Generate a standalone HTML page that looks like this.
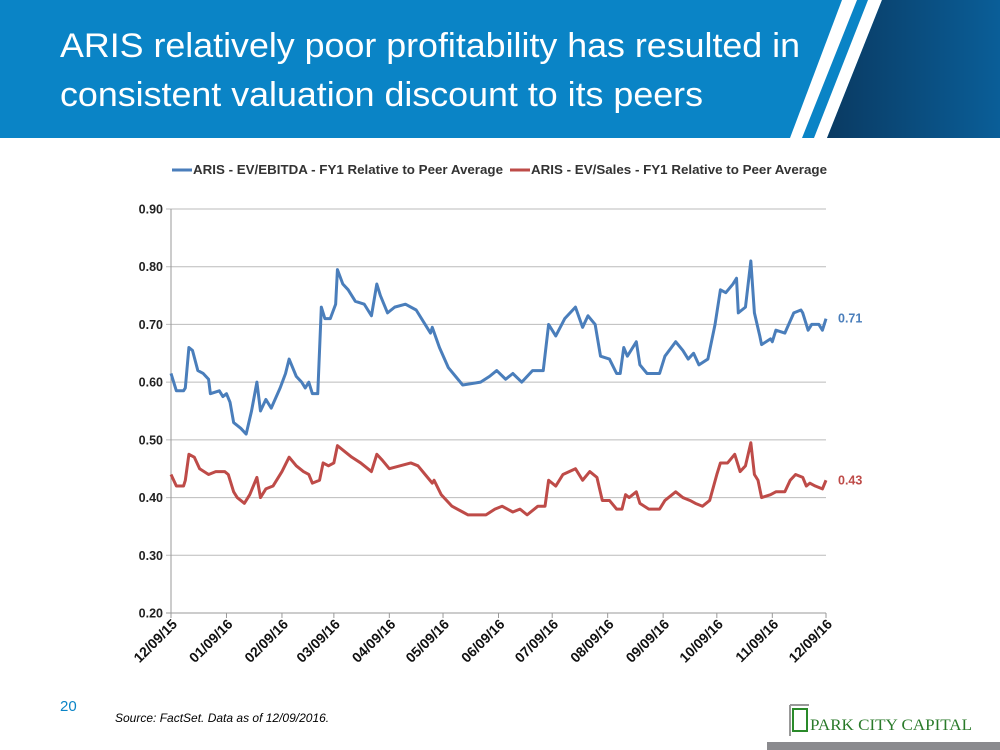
<!DOCTYPE html>
<html><head><meta charset="utf-8"><style>
body{margin:0;width:1000px;height:750px;overflow:hidden;background:#fff;font-family:"Liberation Sans",sans-serif;position:relative}
.t{position:absolute}
</style></head><body>
<svg class="t" style="left:0;top:0" width="1000" height="140">
<defs><linearGradient id="g" x1="0" x2="1"><stop offset="0" stop-color="#0a3a62"/><stop offset="1" stop-color="#0a5e98"/></linearGradient></defs>
<rect width="1000" height="138" fill="#0a84c6"/>
<polygon points="842,0 857,0 802,138 790,138" fill="#fff"/>
<polygon points="868,0 882,0 827,138 814,138" fill="#fff"/>
<polygon points="882,0 1000,0 1000,138 827,138" fill="url(#g)"/>
<text x="60" y="57" fill="#fff" font-size="34" textLength="740" lengthAdjust="spacingAndGlyphs" font-family="Liberation Sans">ARIS relatively poor profitability has resulted in</text>
<text x="60" y="106" fill="#fff" font-size="34" textLength="643" lengthAdjust="spacingAndGlyphs" font-family="Liberation Sans">consistent valuation discount to its peers</text>
</svg>
<svg id="chart" class="t" style="left:0;top:140" width="1000" height="560"></svg>
<div class="t" style="left:60px;top:698px;color:#0a84c6;font-size:15px">20</div>
<div class="t" style="left:115px;top:711px;font-size:12px;font-style:italic">Source: FactSet. Data as of 12/09/2016.</div>
<svg class="t" style="left:785px;top:700px" width="215" height="50">
<path d="M5,5 H24 M5,5 V36" stroke="#999" stroke-width="2" fill="none"/>
<rect x="8" y="9" width="14" height="22" fill="none" stroke="#2a8a2a" stroke-width="2"/>
<text x="25" y="30" fill="#2a7a2a" font-family="Liberation Serif" font-size="16" textLength="162" lengthAdjust="spacingAndGlyphs">PARK CITY CAPITAL</text>
</svg>
<div class="t" style="left:767px;top:742px;width:233px;height:8px;background:#8a8a8e"></div>
<script>
const yTicks=[0.2,0.3,0.4,0.5,0.6,0.7,0.8,0.9];
const xTickLabels=["12/09/15","01/09/16","02/09/16","03/09/16","04/09/16","05/09/16","06/09/16","07/09/16","08/09/16","09/09/16","10/09/16","11/09/16","12/09/16"];
const xTickDays=[0,31,62,91,122,152,183,213,244,275,305,336,366];
const blueSeries=[[0,0.615],[3,0.585],[7,0.585],[8,0.59],[10,0.66],[12,0.655],[15,0.62],[18,0.615],[21,0.605],[22,0.58],[27,0.585],[29,0.575],[31,0.58],[33,0.565],[35,0.53],[39,0.52],[42,0.51],[45,0.55],[48,0.60],[50,0.55],[53,0.57],[56,0.555],[61,0.59],[64,0.615],[66,0.64],[70,0.61],[73,0.60],[75,0.59],[77,0.60],[79,0.58],[82,0.58],[84,0.73],[86,0.71],[89,0.71],[92,0.735],[93,0.795],[96,0.77],[99,0.76],[103,0.74],[108,0.735],[112,0.715],[115,0.77],[117,0.75],[121,0.72],[125,0.73],[131,0.735],[137,0.725],[142,0.70],[145,0.685],[146,0.695],[150,0.66],[155,0.625],[159,0.61],[163,0.595],[173,0.60],[178,0.61],[182,0.62],[187,0.605],[191,0.615],[196,0.60],[202,0.62],[208,0.62],[211,0.70],[215,0.68],[220,0.71],[226,0.73],[230,0.695],[233,0.715],[237,0.70],[240,0.645],[245,0.64],[249,0.615],[251,0.615],[253,0.66],[255,0.645],[260,0.67],[262,0.63],[266,0.615],[273,0.615],[276,0.645],[282,0.67],[286,0.655],[289,0.64],[292,0.65],[295,0.63],[300,0.64],[304,0.70],[307,0.76],[310,0.755],[314,0.77],[316,0.78],[317,0.72],[321,0.73],[324,0.81],[326,0.72],[329,0.68],[330,0.665],[335,0.675],[336,0.67],[338,0.69],[343,0.685],[348,0.72],[352,0.725],[353,0.72],[356,0.69],[358,0.70],[362,0.70],[364,0.69],[366,0.71]];
const redSeries=[[0,0.44],[3,0.42],[7,0.42],[8,0.43],[10,0.475],[13,0.47],[16,0.45],[21,0.44],[25,0.445],[30,0.445],[32,0.44],[35,0.41],[37,0.40],[41,0.39],[44,0.405],[48,0.435],[50,0.40],[53,0.415],[57,0.42],[62,0.445],[66,0.47],[70,0.455],[74,0.445],[77,0.44],[79,0.425],[83,0.43],[85,0.46],[88,0.455],[91,0.46],[93,0.49],[97,0.48],[101,0.47],[106,0.46],[110,0.45],[112,0.445],[115,0.475],[118,0.465],[122,0.45],[128,0.455],[134,0.46],[138,0.455],[142,0.44],[146,0.425],[147,0.43],[151,0.405],[157,0.385],[163,0.375],[166,0.37],[176,0.37],[181,0.38],[185,0.385],[191,0.375],[195,0.38],[199,0.37],[205,0.385],[209,0.385],[211,0.43],[215,0.42],[219,0.44],[226,0.45],[230,0.43],[234,0.445],[238,0.435],[241,0.395],[245,0.395],[249,0.38],[252,0.38],[254,0.405],[256,0.40],[260,0.41],[262,0.39],[267,0.38],[273,0.38],[276,0.395],[282,0.41],[286,0.40],[290,0.395],[293,0.39],[297,0.385],[301,0.395],[305,0.44],[307,0.46],[311,0.46],[315,0.475],[318,0.445],[321,0.455],[324,0.495],[326,0.44],[328,0.43],[330,0.40],[335,0.405],[338,0.41],[343,0.41],[346,0.43],[349,0.44],[353,0.435],[355,0.42],[357,0.425],[360,0.42],[364,0.415],[366,0.43]];
const legendLabels=["ARIS - EV/EBITDA - FY1 Relative to Peer Average","ARIS - EV/Sales - FY1 Relative to Peer Average"];
const endLabels=["0.71","0.43"];
const svg=document.getElementById('chart');const NS='http://www.w3.org/2000/svg';
const X0=171,X1=826,Y0=473,Y1=69;
const xs=d=>X0+(d/366)*(X1-X0);
const ys=v=>Y0-(v-0.2)/0.7*(Y0-Y1);
function mk(t,a,txt){const e=document.createElementNS(NS,t);for(const k in a)e.setAttribute(k,a[k]);if(txt!==undefined)e.textContent=txt;svg.appendChild(e);return e;}
yTicks.forEach(v=>{const g=mk('line',{x1:X0-5,x2:X1,y1:ys(v),y2:ys(v),stroke:v===0.2?'#999':'#bbb','stroke-width':1});


const t=mk('text',{x:X0-8,y:ys(v)+4.5,'text-anchor':'end','font-size':12.5,'font-weight':'bold','font-family':'Liberation Sans',fill:'#222'},v.toFixed(2));

});
const ax=mk('line',{x1:X0,x2:X0,y1:Y1,y2:Y0,stroke:'#999'});


xTickDays.forEach((d,i)=>{const x=xs(d);
const tk=mk('line',{x1:x,x2:x,y1:Y0,y2:Y0+5,stroke:'#999'});


const t=mk('text',{x:x+7,y:Y0+12,'text-anchor':'end','font-size':14,'font-weight':'bold','font-family':'Liberation Sans',fill:'#111',transform:`rotate(-45 ${x+7} ${Y0+12})`},xTickLabels[i]);

});
function line(s,c,n){const p=mk('polyline',{points:s.map(q=>xs(q[0])+','+ys(q[1])).join(' '),fill:'none',stroke:c,'stroke-width':3,'stroke-linejoin':'round'});

}
line(blueSeries,'#4a7ebb','ev-ebitda-line');line(redSeries,'#be4b48','ev-sales-line');
const e1=mk('text',{x:838,y:ys(blueSeries[blueSeries.length-1][1])+4,'font-size':12.5,'font-weight':'bold',fill:'#4a7ebb','font-family':'Liberation Sans'},endLabels[0]);


const e2=mk('text',{x:838,y:ys(redSeries[redSeries.length-1][1])+4,'font-size':12.5,'font-weight':'bold',fill:'#be4b48','font-family':'Liberation Sans'},endLabels[1]);


[[172,'#4a7ebb',310],[510,'#be4b48',296]].forEach((l,i)=>{const ln=mk('line',{x1:l[0],x2:l[0]+20,y1:30,y2:30,stroke:l[1],'stroke-width':3});


const t=mk('text',{x:l[0]+21,y:34,'font-size':12.5,'font-weight':'bold','font-family':'Liberation Sans',fill:'#333',textLength:l[2],lengthAdjust:'spacingAndGlyphs'},legendLabels[i]);

});
</script>
</body></html>
